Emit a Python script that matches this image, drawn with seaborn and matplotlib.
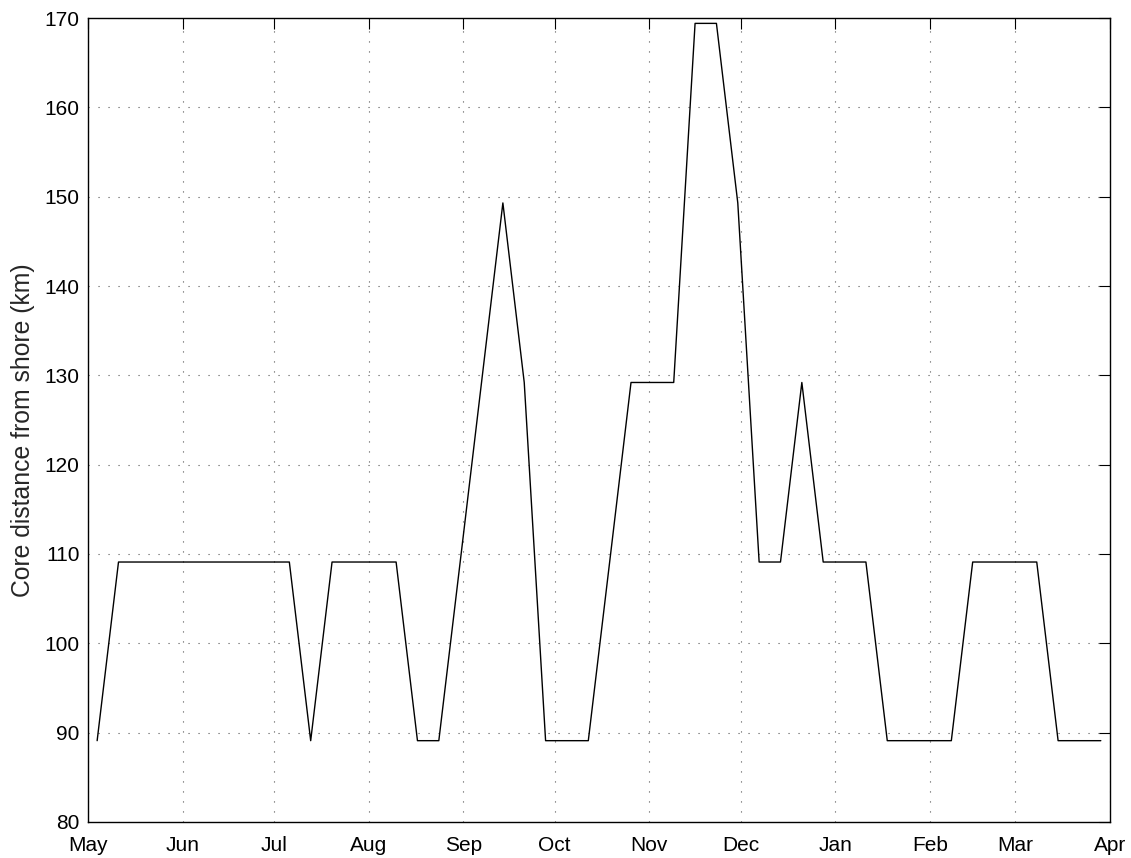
import matplotlib
matplotlib.use("Agg")
import matplotlib.pyplot as plt
import matplotlib.dates as mdates
import seaborn as sns
import pandas as pd

start_date = "2001-05-04"
n_weeks = 48
distance_km = [
    89.1, 109.1, 109.1, 109.1, 109.1, 109.1, 109.1, 109.1, 109.1, 109.1,
    89.1, 109.1, 109.1, 109.1, 109.1, 89.1, 89.1, 109.1, 129.2, 149.3,
    129.2, 89.1, 89.1, 89.1, 109.1, 129.2, 129.2, 129.2, 169.4, 169.4,
    149.3, 109.1, 109.1, 129.2, 109.1, 109.1, 109.1, 89.1, 89.1, 89.1,
    89.1, 109.1, 109.1, 109.1, 109.1, 89.1, 89.1, 89.1,
]
month_ticks = pd.date_range("2001-05-01", "2002-04-01", freq="MS")
y_ticks = list(range(80, 171, 10))

dates = pd.date_range(start_date, periods=n_weeks, freq="7D")
df = pd.DataFrame({"date": dates, "dist": distance_km})

sns.set_style("white")
plt.rcParams["font.family"] = ["Liberation Sans", "DejaVu Sans"]

fig = plt.figure(figsize=(11.31, 8.58), dpi=100)
ax = fig.add_axes([0.0778, 0.042, 0.9036, 0.937])

sns.lineplot(data=df, x="date", y="dist", ax=ax, color="black", linewidth=1.0)

ax.set_xlim(month_ticks[0], month_ticks[-1])
ax.set_ylim(80, 170)
ax.set_xticks(month_ticks)
ax.xaxis.set_major_formatter(mdates.DateFormatter("%b"))
ax.set_yticks(y_ticks)
ax.set_xlabel("")
ax.set_ylabel("Core distance from shore (km)", fontsize=17.8)
ax.yaxis.set_label_coords(-0.052, 0.4876)

ax.grid(True, color="#555555", linestyle=(0, (1, 8)), linewidth=0.8)
ax.set_axisbelow(True)
ax.tick_params(axis="both", direction="in", length=8, width=0.8,
               top=True, right=True, labelsize=15, colors="black")
ax.tick_params(axis="x", pad=10)
ax.tick_params(axis="y", pad=6)
for lbl in ax.get_yticklabels():
    lbl.set_verticalalignment("center_baseline")
for s in ax.spines.values():
    s.set_visible(True)
    s.set_color("black")
    s.set_linewidth(1.0)

fig.savefig("out.png", dpi=100, facecolor="white")
